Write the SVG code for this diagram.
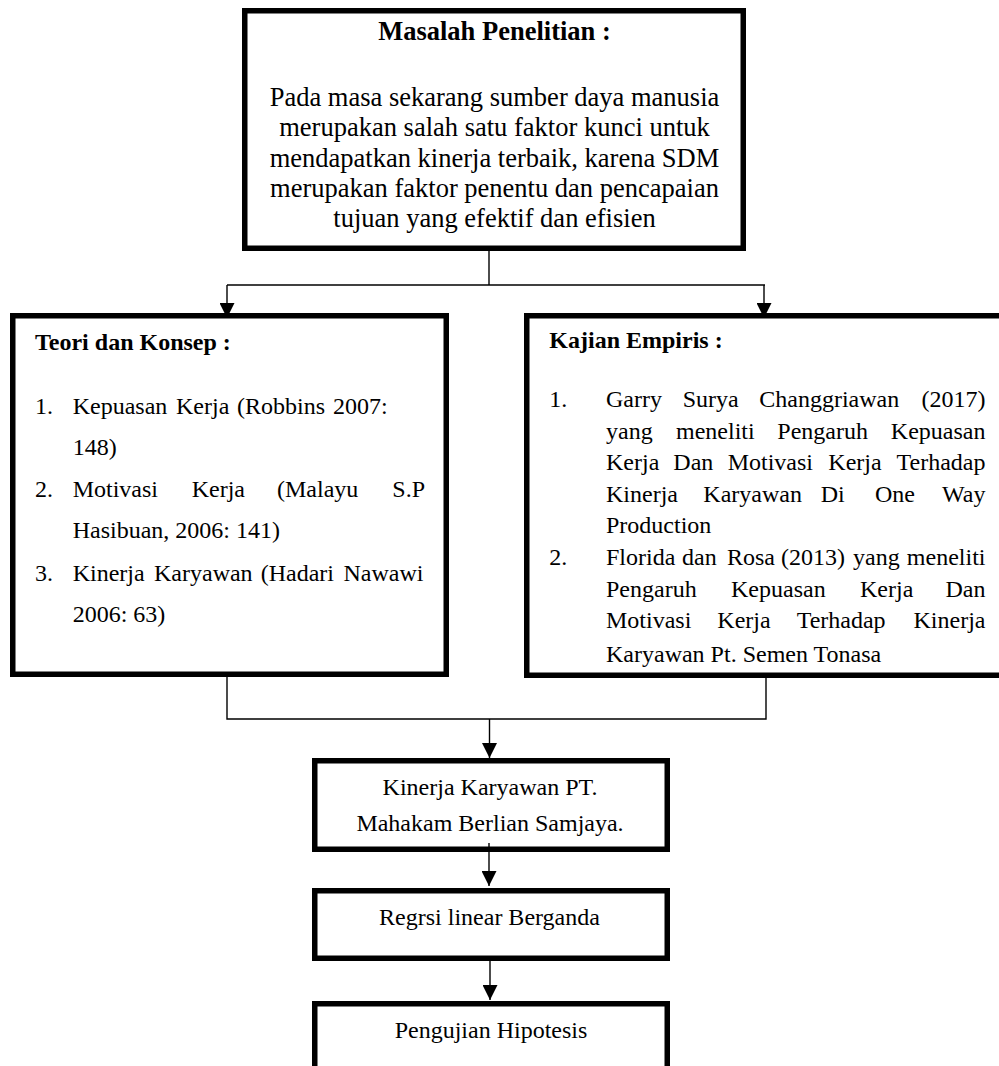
<svg xmlns="http://www.w3.org/2000/svg" width="999" height="1066" viewBox="0 0 999 1066">
<defs>
<style>
.box{fill:#fff;stroke:#000;stroke-width:5.5}
.con{fill:none;stroke:#000;stroke-width:1.4}
text{font-family:"Liberation Serif","Times New Roman",serif;fill:#000}
.t26{font-size:26.5px}
.t24{font-size:24px}
.b{font-weight:bold}
.m{text-anchor:middle}
.e{text-anchor:end}
</style>
<marker id="ah" markerUnits="userSpaceOnUse" markerWidth="15" markerHeight="15" viewBox="0 0 15 15" refX="15" refY="7.5" orient="auto">
<path d="M0,0 L15,7.5 L0,15 z" fill="#000"/>
</marker>
</defs>
<rect width="999" height="1066" fill="#fff"/>

<g id="masalah">
<rect class="box" x="244.75" y="10.75" width="498.5" height="237.5"/>
<text class="t26 b m" x="494.5" y="39.5">Masalah Penelitian :</text>
<text class="t26 m" x="494.5" y="105.5">Pada masa sekarang sumber daya manusia</text>
<text class="t26 m" x="494.5" y="136">merupakan salah satu faktor kunci untuk</text>
<text class="t26 m" x="494.5" y="166.5">mendapatkan kinerja terbaik, karena SDM</text>
<text class="t26 m" x="494.5" y="196.5">merupakan faktor penentu dan pencapaian</text>
<text class="t26 m" x="494.5" y="226.5">tujuan yang efektif dan efisien</text>
</g>

<g id="teori">
<rect class="box" x="12.75" y="315.75" width="433.5" height="358.5"/>
<text class="t24 b" x="35" y="350">Teori dan Konsep :</text>
<text class="t24" y="414"><tspan x="35">1.</tspan><tspan x="72.7">Kepuasan</tspan><tspan x="176">Kerja</tspan><tspan x="237">(Robbins</tspan><tspan x="333">2007:</tspan></text>
<text class="t24" x="72.7" y="455">148)</text>
<text class="t24" y="497"><tspan x="35">2.</tspan><tspan x="72.7">Motivasi</tspan><tspan x="191.7">Kerja</tspan><tspan x="277">(Malayu</tspan></text>
<text class="t24 e" x="425" y="497">S.P</text>
<text class="t24" x="72.7" y="538">Hasibuan, 2006: 141)</text>
<text class="t24" y="580.5"><tspan x="35">3.</tspan><tspan x="72.7">Kinerja</tspan><tspan x="154">Karyawan</tspan><tspan x="260.7">(Hadari</tspan></text>
<text class="t24 e" x="423.5" y="580.5">Nawawi</text>
<text class="t24" x="72.7" y="621.5">2006: 63)</text>
</g>

<g id="kajian">
<rect class="box" x="526.75" y="315.75" width="480" height="359.5"/>
<text class="t24 b" x="549.3" y="348">Kajian Empiris :</text>
<text class="t24" y="407"><tspan x="549.3">1.</tspan><tspan x="606">Garry</tspan><tspan x="682.7">Surya</tspan><tspan x="759.3">Changgriawan</tspan></text>
<text class="t24 e" x="985.5" y="407">(2017)</text>
<text class="t24" y="438.5"><tspan x="606">yang</tspan><tspan x="676">meneliti</tspan><tspan x="777.3">Pengaruh</tspan></text>
<text class="t24 e" x="985.5" y="438.5">Kepuasan</text>
<text class="t24" y="470"><tspan x="606">Kerja</tspan><tspan x="673.3">Dan</tspan><tspan x="727.7">Motivasi</tspan><tspan x="828.3">Kerja</tspan></text>
<text class="t24 e" x="985.5" y="470">Terhadap</text>
<text class="t24" y="501.7"><tspan x="606">Kinerja</tspan><tspan x="703.3">Karyawan</tspan><tspan x="820.7">Di</tspan><tspan x="875">One</tspan></text>
<text class="t24 e" x="985.5" y="501.7">Way</text>
<text class="t24" x="606" y="533.3">Production</text>
<text class="t24" y="565"><tspan x="549.3">2.</tspan><tspan x="606">Florida</tspan><tspan x="682">dan</tspan><tspan x="727">Rosa</tspan><tspan x="781">(2013)</tspan><tspan x="853">yang</tspan></text>
<text class="t24 e" x="985.5" y="565">meneliti</text>
<text class="t24" y="596.7"><tspan x="606">Pengaruh</tspan><tspan x="731">Kepuasan</tspan><tspan x="860">Kerja</tspan></text>
<text class="t24 e" x="985.5" y="596.7">Dan</text>
<text class="t24" y="628.3"><tspan x="606">Motivasi</tspan><tspan x="717.3">Kerja</tspan><tspan x="796.7">Terhadap</tspan></text>
<text class="t24 e" x="985.5" y="628.3">Kinerja</text>
<text class="t24" x="606" y="661.7">Karyawan Pt. Semen Tonasa</text>
</g>

<g id="kinerja">
<rect class="box" x="314.75" y="760.75" width="352.5" height="88.5"/>
<text class="t24 m" x="490" y="795">Kinerja Karyawan PT.</text>
<text class="t24 m" x="490" y="831">Mahakam Berlian Samjaya.</text>
</g>

<g id="regresi">
<rect class="box" x="314.75" y="890.75" width="352.5" height="67.5"/>
<text class="t24 m" x="489.5" y="925">Regrsi linear Berganda</text>
</g>

<g id="pengujian">
<rect class="box" x="314.75" y="1003.75" width="352.5" height="80"/>
<text class="t24 m" x="491" y="1038">Pengujian Hipotesis</text>
</g>

<g id="connectors">
<path class="con" d="M489,251 V285"/>
<path class="con" d="M227,285 H765"/>
<path class="con" d="M227,285 V318" marker-end="url(#ah)"/>
<path class="con" d="M764,285 V318" marker-end="url(#ah)"/>
<path class="con" d="M227,677 V719 H766 V678"/>
<path class="con" d="M489.5,719 V758" marker-end="url(#ah)"/>
<path class="con" d="M489,843 V886" marker-end="url(#ah)"/>
<path class="con" d="M490,961 V1000" marker-end="url(#ah)"/>
</g>
</svg>
